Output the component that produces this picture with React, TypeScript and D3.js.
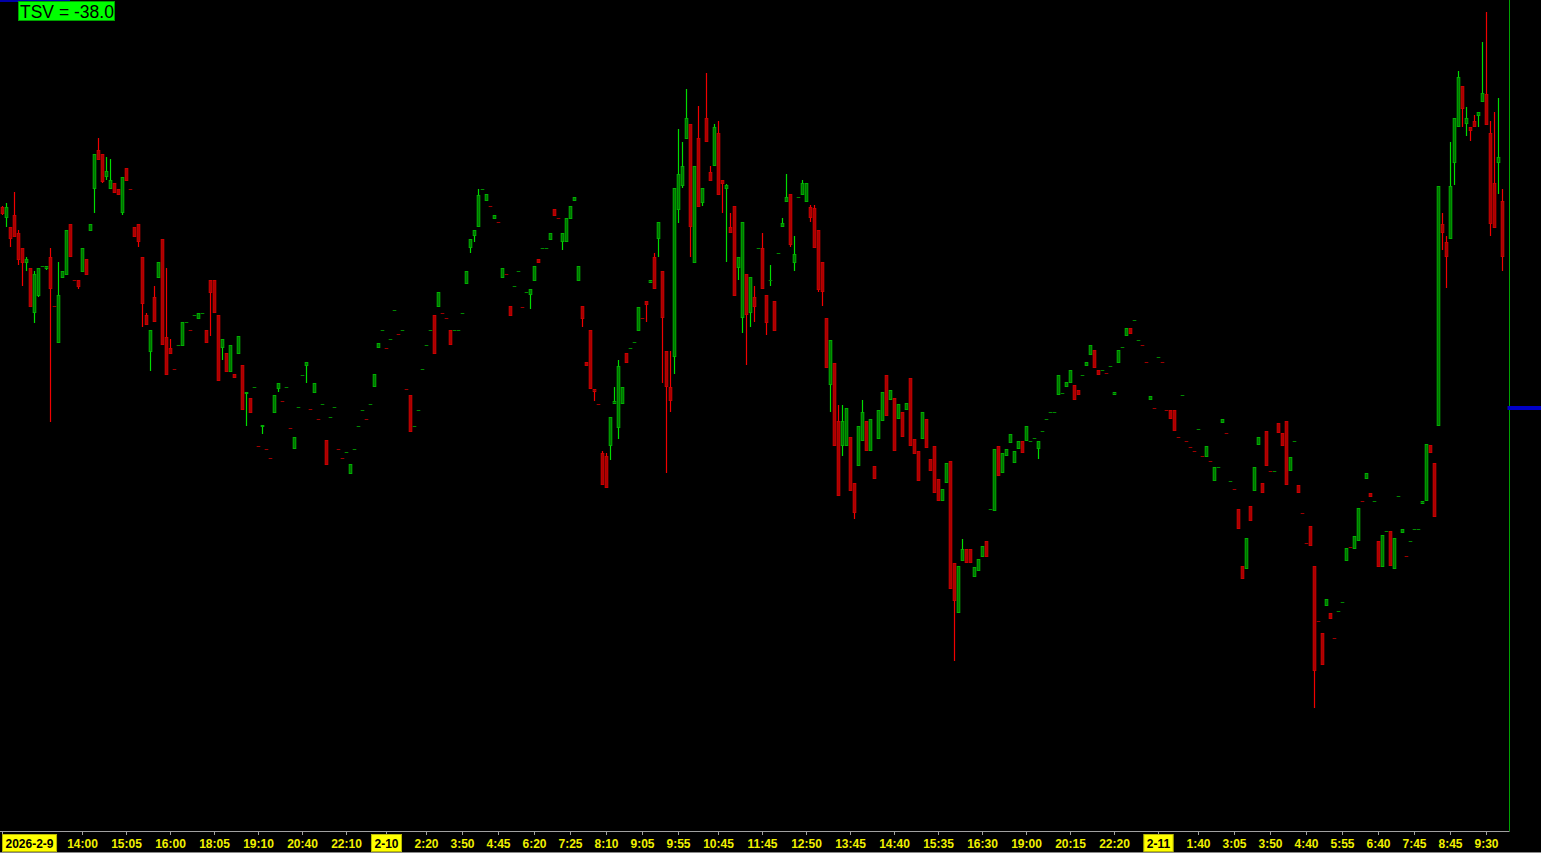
import { useEffect, useRef } from "react"
import * as d3 from "d3"

// candles: [open, high, low, close]
const ohlc: [number, number, number, number][] = [
  [693,694,685,686],[682,697,673,693],[673,673,653,661],[685,708,663,663],[667,670,635,640],[652,652,614,637],[637,643,629,641],[632,632,593,593],
  [587,629,577,626],[604,632,603,632],[633,634,633,634],[631,634,630,634],[643,652,479,611],[594,594,593,593],[557,638,557,605],[622,629,622,629],
  [625,670,625,670],[676,676,643,643],[620,620,619,619],[620,620,611,613],[628,652,628,652],[641,641,625,625],[669,676,669,676],[711,746,687,746],
  [750,762,740,740],[746,746,717,718],[723,743,720,729],[711,741,711,720],[717,717,707,707],[711,711,705,705],[687,723,685,723],[732,732,719,719],
  [711,711,710,710],[673,673,663,663],[676,676,653,658],[643,643,573,596],[585,587,575,575],[548,570,529,570],[603,614,578,578],[622,638,622,638],
  [661,661,555,555],[563,632,525,525],[552,561,546,546],[531,531,530,530],[554,555,554,555],[554,578,554,578],[577,578,577,578],[570,570,569,569],
  [584,585,584,585],[581,587,581,587],[586,587,586,587],[570,570,557,557],[620,620,564,607],[620,620,587,587],[585,585,519,519],[552,561,540,561],
  [547,547,528,528],[528,555,528,555],[526,526,522,522],[546,564,546,564],[535,535,490,490],[506,508,475,508],[502,502,487,487],[512,513,512,513],
  [455,455,454,454],[474,476,467,476],[452,452,451,451],[443,443,442,442],[487,505,487,505],[511,517,508,517],[499,499,498,498],[512,513,512,513],
  [473,473,472,472],[452,464,452,464],[492,493,492,493],[524,525,524,525],[534,538,517,538],[491,491,490,490],[507,517,507,517],[482,482,481,481],
  [495,496,495,496],[461,461,436,436],[483,484,483,484],[492,493,492,493],[452,452,451,451],[443,443,442,442],[448,449,448,449],[427,437,427,437],
  [451,452,451,452],[474,475,474,475],[489,490,489,490],[482,482,481,481],[495,496,495,496],[513,526,513,526],[552,557,552,557],[569,570,569,570],
  [552,552,551,551],[560,561,560,561],[589,590,589,590],[566,566,565,565],[569,570,569,570],[511,511,510,510],[505,505,469,469],[474,475,474,475],
  [489,490,489,490],[530,531,530,531],[554,555,554,555],[569,570,569,570],[585,585,546,546],[593,608,593,608],[587,587,586,586],[582,582,581,581],
  [570,570,555,555],[569,570,569,570],[569,570,569,570],[586,587,586,587],[616,629,616,629],[652,661,647,661],[664,670,658,670],[673,711,673,705],
  [710,711,710,711],[699,706,699,706],[694,694,693,693],[681,685,681,685],[678,678,677,677],[622,632,622,632],[626,626,625,625],[594,594,584,584],
  [613,614,613,614],[628,629,628,629],[593,593,592,592],[607,608,607,608],[605,611,591,611],[619,634,619,634],[641,641,637,637],[651,652,651,652],
  [651,652,651,652],[660,667,660,667],[691,691,684,684],[682,682,681,681],[658,667,650,667],[658,682,658,682],[681,694,681,694],[699,703,699,703],
  [619,634,619,634],[594,594,573,581],[538,538,534,534],[570,570,511,511],[511,511,499,508],[496,496,495,495],[448,450,416,416],[445,448,413,413],
  [455,484,441,484],[496,513,496,499],[473,540,462,534],[496,513,496,513],[547,547,537,537],[551,552,551,552],[557,558,557,558],[569,593,569,593],
  [582,582,581,581],[599,599,578,595],[617,620,617,620],[643,647,611,611],[661,678,643,678],[629,629,517,582],[549,549,428,513],[513,549,488,499],
  [543,712,526,712],[690,771,677,726],[714,758,712,734],[761,811,761,782],[776,776,643,673],[637,734,637,734],[762,794,693,693],[697,712,694,712],
  [782,827,758,758],[728,734,719,719],[734,776,734,773],[767,779,705,705],[720,720,687,716],[711,716,638,715],[673,687,667,667],[694,694,604,604],
  [632,643,620,643],[582,678,567,678],[626,626,535,585],[587,623,573,623],[603,614,578,593],[651,652,651,652],[652,667,611,611],[605,605,565,577],
  [619,635,614,620],[599,599,569,569],[646,647,646,647],[673,682,673,677],[698,726,698,703],[706,706,653,655],[637,664,629,646],[702,703,702,703],
  [705,720,705,717],[698,717,698,717],[693,695,678,682],[692,695,652,652],[670,670,608,610],[638,638,594,608],[582,582,532,532],[515,560,488,560],
  [537,537,455,455],[480,495,405,405],[455,495,445,480],[455,492,455,492],[464,464,410,410],[418,418,382,388],[435,475,435,475],[460,500,460,488],
  [480,480,450,450],[450,482,450,482],[435,435,422,422],[462,490,462,490],[480,508,480,508],[525,525,485,485],[500,510,500,510],[502,502,450,450],
  [482,496,482,496],[488,488,464,464],[490,497,490,497],[522,522,455,455],[462,462,447,447],[450,450,420,420],[462,488,462,488],[482,482,453,453],
  [442,442,430,430],[455,455,408,408],[422,422,400,400],[400,412,400,412],[418,438,418,438],[440,440,312,312],[338,338,240,300],[288,335,288,335],
  [340,362,340,352],[352,352,338,338],[352,352,338,338],[324,334,324,334],[330,342,330,342],[344,355,344,355],[360,360,344,344],[391,392,391,392],
  [390,452,390,452],[455,455,425,425],[428,448,428,448],[445,452,445,452],[458,467,458,467],[438,450,438,450],[452,460,452,460],[460,460,448,448],
  [460,475,460,475],[459,460,459,460],[462,463,462,463],[452,460,442,460],[469,470,469,470],[481,482,481,482],[487,488,487,488],[487,488,487,488],
  [505,525,505,525],[506,507,506,507],[513,518,513,518],[517,530,517,530],[515,515,500,500],[510,510,505,505],[524,525,524,525],[534,538,534,538],
  [545,555,545,555],[550,550,532,532],[530,530,525,525],[529,530,529,530],[527,527,526,526],[533,534,533,534],[505,508,505,508],[537,550,537,550],
  [552,553,552,553],[564,572,564,572],[572,572,566,566],[579,580,579,580],[559,560,559,560],[555,555,554,554],[538,538,537,537],[500,504,500,504],
  [492,492,491,491],[542,543,542,543],[538,538,537,537],[490,490,489,489],[490,490,482,482],[490,490,470,470],[464,464,463,463],[504,505,504,505],
  [460,460,459,459],[454,454,453,453],[450,450,449,449],[471,472,471,472],[445,445,444,444],[444,455,444,455],[440,440,439,439],[420,434,420,434],
  [433,434,433,434],[478,482,478,482],[468,468,467,467],[419,420,419,420],[412,412,411,411],[392,392,372,372],[335,335,322,322],[332,363,332,363],
  [395,395,380,380],[410,434,410,434],[456,464,456,464],[418,418,408,408],[470,470,435,435],[430,430,429,429],[429,430,429,430],[478,478,468,468],
  [468,468,455,455],[480,480,416,416],[430,444,430,444],[459,460,459,460],[416,416,408,408],[388,388,387,387],[358,358,357,357],[375,375,355,355],
  [335,335,193,230],[280,280,279,279],[268,268,236,236],[295,302,295,302],[288,288,282,282],[263,263,262,262],[289,290,289,290],[298,299,298,299],
  [340,353,340,353],[354,354,353,353],[352,365,352,365],[360,393,360,393],[400,400,399,399],[422,428,422,428],[408,408,404,404],[399,400,399,400],
  [360,360,334,334],[334,366,334,366],[369,370,369,370],[370,370,335,335],[332,363,332,363],[404,405,404,405],[368,372,368,372],[345,345,344,344],
  [359,360,359,360],[371,372,371,372],[371,372,371,372],[397,400,397,400],[400,457,400,457],[456,456,448,448],[438,438,384,384],[475,714,475,714],
  [676,687,650,667],[658,664,612,643],[661,758,661,714],[737,782,715,782],[773,829,773,823],[814,814,773,791],[776,793,764,782],[773,773,759,769],
  [779,785,773,773],[784,788,773,788],[798,858,798,807],[806,888,775,775],[767,779,664,676],[717,788,672,672],[737,802,706,743],[699,711,629,643],
]

const tickIndex = [0, 20, 31, 42, 53, 64, 75, 86, 96, 106, 115, 124, 133, 142, 151, 160, 169, 179, 190, 201, 212, 223, 234, 245, 256, 267, 278, 289, 299, 308, 317, 326, 335, 344, 353, 362, 371]
const tickLabel = ["2026-2-9", "14:00", "15:05", "16:00", "18:05", "19:10", "20:40", "22:10", "2-10", "2:20", "3:50", "4:45", "6:20", "7:25", "8:10", "9:05", "9:55", "10:45", "11:45", "12:50", "13:45", "14:40", "15:35", "16:30", "19:00", "20:15", "22:20", "2-11", "1:40", "3:05", "3:50", "4:40", "5:55", "6:40", "7:45", "8:45", "9:30"]
const dateTicks = ["2026-2-9", "2-10", "2-11"]

const tsvValue = -38.0
const markerPrice = 492

const W = 1541
const H = 853
const plotRight = 1509.5
const axisY = 831

export default function App() {
  const svgRef = useRef<SVGSVGElement>(null)

  useEffect(() => {
    if (!svgRef.current) return
    const svg = d3.select(svgRef.current)
    svg.selectAll("*").remove()

    const x = d3.scaleBand<number>()
      .domain(d3.range(ohlc.length))
      .range([0.7, 1504.7])
      .padding(0)

    const y = d3.scaleLinear()
      .domain([70, 900])
      .range([axisY, 0])

    const cx = (i: number) => Math.floor((x(i) ?? 0) + x.bandwidth() / 2) + 0.5

    svg.append("rect").attr("width", W).attr("height", H).attr("fill", "#000")

    // candles
    const g = svg.append("g")
    ohlc.forEach(([o, hi, lo, c], i) => {
      const up = c >= o
      const xc = cx(i)
      const yTop = Math.round(y(Math.max(o, c)))
      const yBot = Math.round(y(Math.min(o, c)))
      const yHi = Math.round(y(hi))
      const yLo = Math.round(y(lo))
      if (yHi < yTop || yLo > yBot) {
        g.append("line")
          .attr("x1", xc).attr("x2", xc)
          .attr("y1", yHi).attr("y2", yLo)
          .attr("stroke", up ? "#00dc00" : "#f00000")
          .attr("stroke-width", 1.2)
      }
      const bh = Math.max(1, yBot - yTop)
      const small = yBot - yTop <= 1
      g.append("rect")
        .attr("x", xc - 1.3)
        .attr("y", yTop + 0.5)
        .attr("width", 2.6)
        .attr("height", Math.max(0.01, bh - 1))
        .attr("fill", up ? "#007400" : "#a80000")
        .attr("stroke", small ? (up ? "#008a00" : "#a00000") : (up ? "#00b000" : "#cc0000"))
        .attr("stroke-width", 1)
    })

    // frame
    svg.append("line")
      .attr("x1", plotRight).attr("x2", plotRight)
      .attr("y1", 0).attr("y2", axisY)
      .attr("stroke", "#00a000")
    svg.append("line")
      .attr("x1", 0).attr("x2", plotRight)
      .attr("y1", axisY + 0.5).attr("y2", axisY + 0.5)
      .attr("stroke", "#a0a0a0")
    svg.append("line")
      .attr("x1", 0).attr("x2", W)
      .attr("y1", H - 0.5).attr("y2", H - 0.5)
      .attr("stroke", "#8a8a8a")

    // price marker on right
    svg.append("rect")
      .attr("x", plotRight - 2)
      .attr("y", Math.round(y(markerPrice)) - 2)
      .attr("width", W - plotRight + 2)
      .attr("height", 4)
      .attr("fill", "#0000c8")

    // top-left blue line
    svg.append("rect").attr("x", 0).attr("y", 0).attr("width", 70).attr("height", 2).attr("fill", "#0000a8")

    // x axis ticks + labels
    const ax = svg.append("g")
    tickIndex.forEach((idx, k) => {
      const label = tickLabel[k]
      const xc = cx(idx)
      ax.append("line")
        .attr("x1", xc).attr("x2", xc)
        .attr("y1", axisY).attr("y2", axisY + 4)
        .attr("stroke", "#a0a0a0")
      const isDate = dateTicks.includes(label)
      const t = ax.append("text")
        .attr("y", 847.5)
        .attr("font-family", "'Liberation Sans', Arial, sans-serif")
        .attr("font-weight", "bold")
        .attr("font-size", 12)
        .attr("text-anchor", "middle")
        .attr("fill", isDate ? "#000" : "#f0f000")
        .text(label)
      const w = (t.node() as SVGTextElement).getComputedTextLength()
      let tx = xc
      if (tx - w / 2 - 3 < 2.5) tx = 2.5 + 3 + w / 2
      t.attr("x", tx)
      if (isDate) {
        ax.insert("rect", () => t.node() as SVGTextElement)
          .attr("x", tx - w / 2 - 3)
          .attr("y", 834.5)
          .attr("width", w + 6)
          .attr("height", 17)
          .attr("fill", "#ffff00")
          .attr("stroke", "#b8b800")
          .attr("stroke-width", 1)
      }
    })

    // TSV box
    svg.append("rect")
      .attr("x", 18.5).attr("y", 1.5)
      .attr("width", 96).attr("height", 19)
      .attr("fill", "#00ff00")
      .attr("stroke", "#00a000")
    svg.append("text")
      .attr("x", 20).attr("y", 18)
      .attr("font-family", "'Liberation Sans', Arial, sans-serif")
      .attr("font-size", 17.5)
      .attr("fill", "#000")
      .text(`TSV = ${tsvValue.toFixed(1)}`)
  }, [])

  return (
    <svg
      ref={svgRef}
      width={W}
      height={H}
      style={{ position: "absolute", left: 0, top: 0, display: "block", background: "#000" }}
    />
  )
}
